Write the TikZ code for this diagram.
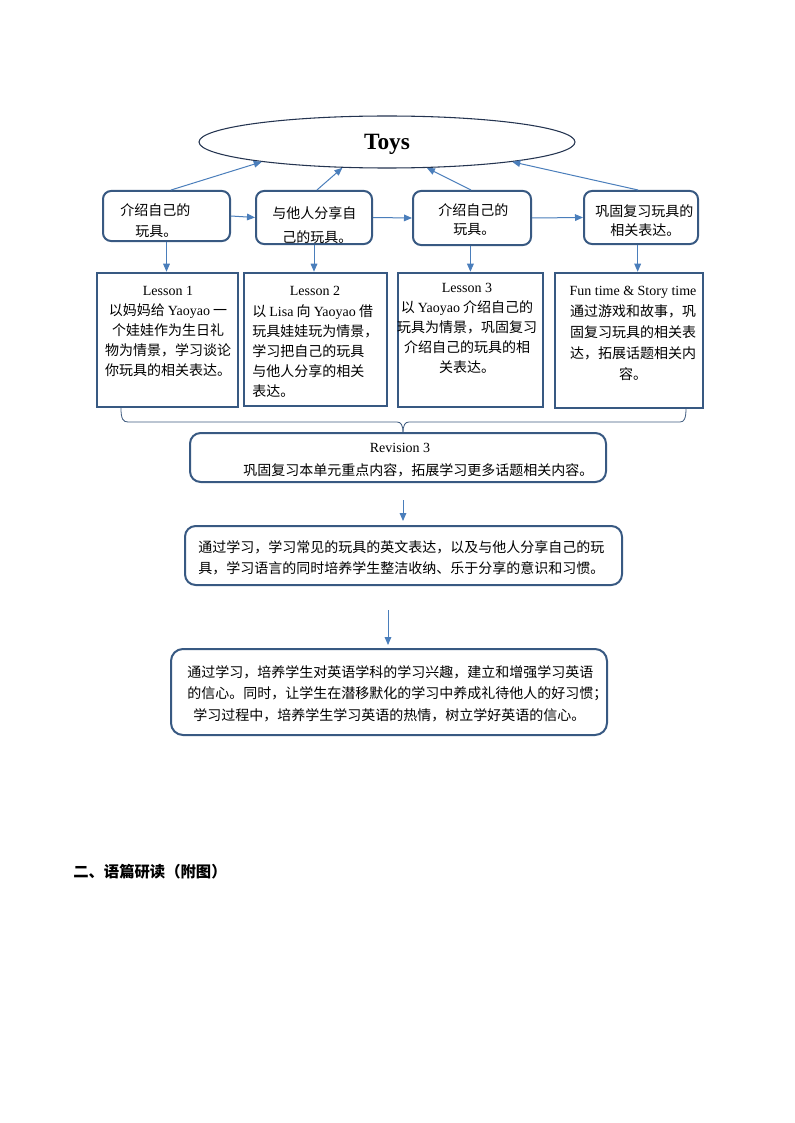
\documentclass[tikz,border=0pt]{standalone}
\usepackage{fontspec}
\setmainfont{Noto Sans CJK SC}
\newfontfamily\en{Liberation Serif}
\usetikzlibrary{arrows.meta,shapes.geometric}
\definecolor{boxc}{RGB}{56,89,130}
\definecolor{arrc}{RGB}{74,126,187}
\definecolor{ellc}{RGB}{36,52,80}
\definecolor{brc}{RGB}{64,92,128}
\begin{document}
\begin{tikzpicture}[x=0.75pt,y=-0.75pt,
  rbox/.style={draw=boxc, line width=1.5pt, rounded corners=6pt, inner sep=0},
  bigbox/.style={draw=boxc, line width=1.5pt, rounded corners=8pt, inner sep=0},
  lbox/.style={draw=boxc, line width=1.9pt, inner sep=0},
  arr/.style={draw=arrc, line width=0.75pt, -{Triangle[length=6pt,width=5pt]}},
  txt/.style={inner sep=0, font=\fontsize{10.5pt}{15pt}\selectfont},
  entxt/.style={inner sep=0, font=\en\fontsize{10.5pt}{15pt}\selectfont},
  brace/.style={draw=brc, line width=0.6pt}]
\fill[white] (0,0) rectangle (794,1123);
\useasboundingbox (0,0) rectangle (794,1123);

% ellipse
\node[ellipse, draw=ellc, line width=0.8pt, minimum width=282pt, minimum height=39pt, inner sep=0, text depth=0pt,
      font=\en\bfseries\fontsize{17.5pt}{20pt}\selectfont] (toys) at (387,142) {Toys};

% top row boxes
\node[rbox, minimum width=95.25pt, minimum height=37.5pt] (A) at (166.5,216) {};
\node[rbox, minimum width=87pt, minimum height=39.75pt] (B) at (314,217.5) {};
\node[rbox, minimum width=88.5pt, minimum height=40.5pt] (C) at (472,218) {};
\node[rbox, minimum width=85.5pt, minimum height=39.75pt] (D) at (641,217.5) {};

\node[txt, anchor=west] (A1) at (120,210) {介绍自己的};
\node[txt, anchor=west] (A2) at (135,232) {玩具。};
\node[txt, anchor=west] (B1) at (272,213) {与他人分享自};
\node[txt, anchor=west] (B2) at (282,237) {己的玩具。};
\node[txt, anchor=west] (C1) at (438,210) {介绍自己的};
\node[txt, anchor=west] (C2) at (453,230) {玩具。};
\node[txt, anchor=west] (D1) at (595,211) {巩固复习玩具的};
\node[txt, anchor=west] (D2) at (610,230) {相关表达。};

% lesson boxes
\node[lbox, minimum width=105.75pt, minimum height=100.5pt] (L1) at (167.5,340) {};
\node[lbox, minimum width=107.25pt, minimum height=99.75pt] (L2) at (315.5,339.5) {};
\node[lbox, minimum width=108.75pt, minimum height=100.5pt] (L3) at (470.5,340) {};
\node[lbox, minimum width=111pt, minimum height=101.25pt] (L4) at (629,340.5) {};

\node[txt, align=center] (L1t) at (168,331) {{\en Lesson 1}\\以妈妈给 {\en Yaoyao} 一\\个娃娃作为生日礼\\物为情景，学习谈论\\你玩具的相关表达。};
\node[entxt] (L2h) at (315,291) {Lesson 2};
\node[txt, align=left, anchor=west] (L2t) at (252,351) {以 {\en Lisa} 向 {\en Yaoyao} 借\\玩具娃娃玩为情景，\\学习把自己的玩具\\与他人分享的相关\\表达。};
\node[txt, align=center] (L3t) at (467,328) {{\en Lesson 3}\\以 {\en Yaoyao} 介绍自己的\\玩具为情景，巩固复习\\介绍自己的玩具的相\\关表达。};
\node[inner sep=0, align=center, font=\fontsize{10.5pt}{15.75pt}\selectfont] (L4t) at (633,333) {{\en Fun time \& Story time}\\通过游戏和故事，巩\\固复习玩具的相关表\\达，拓展话题相关内\\容。};

% connectors top row
\draw[arr] ([xshift=3.4pt]A.north) -- (toys.189.9);
\draw[arr] ([xshift=2.2pt]B.north) -- (toys.210.5);
\draw[arr] ([xshift=-0.8pt]C.north) -- (toys.327.6);
\draw[arr] ([xshift=-2.2pt]D.north) -- (toys.351.6);
\draw[arr] (A.east) -- (B.west);
\draw[arr] (B.east) -- (C.west);
\draw[arr] (C.east) -- (D.west);
\draw[arr] (A.south) -- (A.south |- L1.north);
\draw[arr] (B.south) -- (B.south |- L2.north);
\draw[arr] ([xshift=-1.2pt]C.south) -- ([xshift=-1.2pt]C.south |- L3.north);
\draw[arr] ([xshift=-2.5pt]D.south) -- ([xshift=-2.5pt]D.south |- L4.north);

% brace
\draw[brace] (121,408) .. controls (121,419) and (123,422) .. (128,422) -- (397,422)
   .. controls (401,422) and (403,425) .. (403,433);
\draw[brace] (403,433) .. controls (403,425) and (405,422) .. (409,422) -- (680,422)
   .. controls (684,422) and (686,419) .. (686,408);

% revision box
\node[bigbox, minimum width=312pt, minimum height=36.75pt] (R) at (398,457.5) {};
\node[entxt] (Rh) at (400,448) {Revision 3};
\node[txt, anchor=west] (Rt) at (243,470) {巩固复习本单元重点内容，拓展学习更多话题相关内容。};

% arrow 1
\coordinate (p1) at (403,500);
\coordinate (p2) at (403,521);
\draw[arr] (p1) -- (p2);

% box 6
\node[bigbox, minimum width=327.75pt, minimum height=44.25pt] (G) at (403.5,555.5) {};
\node[inner sep=0, align=left, anchor=west, font=\fontsize{10.5pt}{15.75pt}\selectfont] (Gt) at (198,557.5) {通过学习，学习常见的玩具的英文表达，以及与他人分享自己的玩\\具，学习语言的同时培养学生整洁收纳、乐于分享的意识和习惯。};

% arrow 2
\coordinate (q1) at (388,610);
\coordinate (q2) at (388,645);
\draw[arr] (q1) -- (q2);

% box 7
\node[bigbox, rounded corners=9pt, minimum width=327pt, minimum height=64.5pt] (H) at (389,692) {};
\node[inner sep=0, align=left, anchor=west, font=\fontsize{10.5pt}{16pt}\selectfont] (Ht) at (187,693.5) {通过学习，培养学生对英语学科的学习兴趣，建立和增强学习英语\\的信心。同时，让学生在潜移默化的学习中养成礼待他人的好习惯；\\\hspace*{4.5pt}学习过程中，培养学生学习英语的热情，树立学好英语的信心。};

% heading
\node[inner sep=0, anchor=west, font=\bfseries\fontsize{11.5pt}{14pt}\selectfont] (head) at (73,872) {二、语篇研读（附图）};
\end{tikzpicture}
\end{document}
